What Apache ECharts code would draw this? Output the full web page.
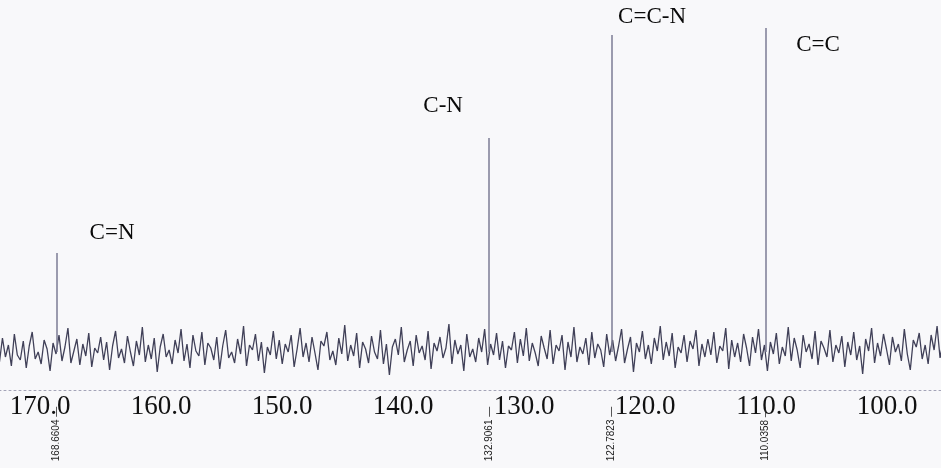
<!DOCTYPE html>
<html lang="en">
<head>
    <meta charset="UTF-8">
    <title>13C NMR</title>
    <script src="https://cdn.jsdelivr.net/npm/echarts@6/dist/echarts.min.js"></script>
    <style>
        html, body { margin: 0; padding: 0; background: #f8f8fa; }
        #chart { width: 941px; height: 468px; }
    </style>
</head>
<body>
    <div id="chart"></div>
    <script>
        // baseline noise, left to right
        var noiseStart = 173.6;
        var noiseStep = 0.246;
        var noise = [
            40, 28, 52, 33, 45, 24, 56, 35, 30, 49, 22, 44, 58, 31, 38, 26, 50, 41, 19, 47,
            36, 55, 29, 43, 62, 27, 39, 51, 25, 46, 34, 57, 23, 42, 37, 53, 30, 48, 20, 44,
            59, 32, 41, 27, 54, 38, 24, 49, 35, 63, 28, 45, 31, 52, 18, 43, 56, 33, 40, 26,
            50, 37, 61, 29, 46, 22, 55, 39, 34, 58, 25, 47, 42, 30, 53, 21, 44, 60, 32, 38,
            27, 51, 36, 64, 24, 45, 40, 56, 29, 48, 17, 43, 35, 59, 31, 50, 26, 46, 38, 55,
            23, 41, 62, 33, 47, 28, 53, 37, 20, 49, 44, 58, 30, 39, 25, 52, 36, 65, 29, 45,
            34, 57, 22, 48, 41, 27, 54, 38, 31, 60, 26, 46, 15, 43, 51, 35, 63, 28, 40, 49,
            24, 55, 37, 44, 30, 59, 21, 47, 39, 53, 32, 42, 66, 26, 50, 36, 45, 19, 56, 33,
            41, 28, 52, 38, 61, 25, 46, 35, 57, 30, 49, 22, 44, 40, 58, 27, 51, 34, 62, 29,
            47, 37, 24, 54, 42, 31, 60, 26, 45, 39, 55, 20, 48, 33, 63, 28, 43, 36, 52, 25,
            58, 32, 46, 40, 23, 56, 35, 50, 29, 44, 61, 27, 41, 53, 18, 47, 38, 59, 31, 45,
            26, 52, 39, 64, 30, 48, 34, 57, 22, 43, 37, 55, 28, 49, 41, 60, 24, 46, 33, 51,
            35, 58, 27, 44, 39, 62, 21, 50, 33, 47, 28, 56, 42, 24, 53, 37, 61, 30, 45, 19,
            48, 36, 57, 26, 43, 34, 63, 29, 52, 40, 22, 55, 38, 46, 31, 59, 25, 49, 42, 33,
            60, 28, 45, 37, 54, 23, 48, 35, 58, 30, 44, 16, 51, 39, 62, 27, 47, 34, 56, 41,
            25, 53, 38, 46, 29, 61, 36, 20, 50, 43, 57, 31, 45, 26, 55, 40, 64, 32, 48, 37
        ];
        var baseLevel = 38;

        // peaks (ppm) and heights
        var peakPpm = [168.6604, 132.9061, 122.7823, 110.0358];
        var peakHeight = [137, 252, 355, 362];

        // group labels and where they sit
        var groupNames = ['C=N', 'C-N', 'C=C-N', 'C=C'];
        var groupPpm = [164.05, 136.69, 119.42, 105.70];
        var groupY = [157, 284, 373, 345];

        var tickValues = [170, 160, 150, 140, 130, 120, 110, 100];
        var peakLabelY = -48;

        var spectrum = noise.map(function (v, i) {
            return [noiseStart - i * noiseStep, v];
        });

        var peakLines = peakPpm.map(function (p, i) {
            return [{ coord: [p, baseLevel] }, { coord: [p, peakHeight[i]] }];
        });

        var chart = echarts.init(document.getElementById('chart'));
        chart.setOption({
            animation: false,
            backgroundColor: '#f8f8fa',
            grid: { left: 0, right: 0, top: 0, bottom: 78, containLabel: false, outerBoundsMode: 'none' },
            xAxis: {
                type: 'value',
                inverse: true,
                min: 95.54,
                max: 173.31,
                axisLine: {
                    onZero: false,
                    lineStyle: { color: '#a4a4b8', type: [2, 3], width: 1 }
                },
                axisTick: { show: false },
                splitLine: { show: false },
                axisLabel: {
                    customValues: tickValues,
                    margin: 3,
                    color: '#111',
                    fontFamily: 'Liberation Serif',
                    fontSize: 27,
                    formatter: function (v) { return Number(v).toFixed(1); }
                }
            },
            yAxis: {
                type: 'value',
                min: 0,
                max: 390,
                show: false
            },
            series: [
                {
                    type: 'line',
                    data: spectrum,
                    symbol: 'none',
                    silent: true,
                    lineStyle: { color: '#404058', width: 1.3 },
                    markLine: {
                        silent: true,
                        symbol: 'none',
                        label: { show: false },
                        lineStyle: { color: '#7c7c94', width: 1.5, type: 'solid' },
                        data: peakLines
                    }
                },
                {
                    type: 'scatter',
                    symbolSize: 1,
                    silent: true,
                    itemStyle: { color: 'rgba(0,0,0,0)', opacity: 1 },
                    data: groupNames.map(function (n, i) {
                        return { name: n, value: [groupPpm[i], groupY[i]] };
                    }),
                    label: {
                        show: true,
                        position: 'inside',
                        formatter: '{b}',
                        color: '#0a0a0a',
                        fontFamily: 'Liberation Serif',
                        fontSize: 23
                    }
                },
                {
                    type: 'scatter',
                    symbolSize: 1,
                    silent: true,
                    clip: false,
                    itemStyle: { color: 'rgba(0,0,0,0)', opacity: 1 },
                    data: peakPpm.map(function (p) {
                        return { name: p.toFixed(4), value: [p, peakLabelY] };
                    }),
                    label: {
                        show: true,
                        position: 'inside',
                        rotate: 90,
                        offset: [4, 0],
                        formatter: '{b} \u2014',
                        color: '#222',
                        fontFamily: 'Liberation Sans',
                        fontSize: 10
                    }
                }
            ]
        });
    </script>
</body>
</html>
